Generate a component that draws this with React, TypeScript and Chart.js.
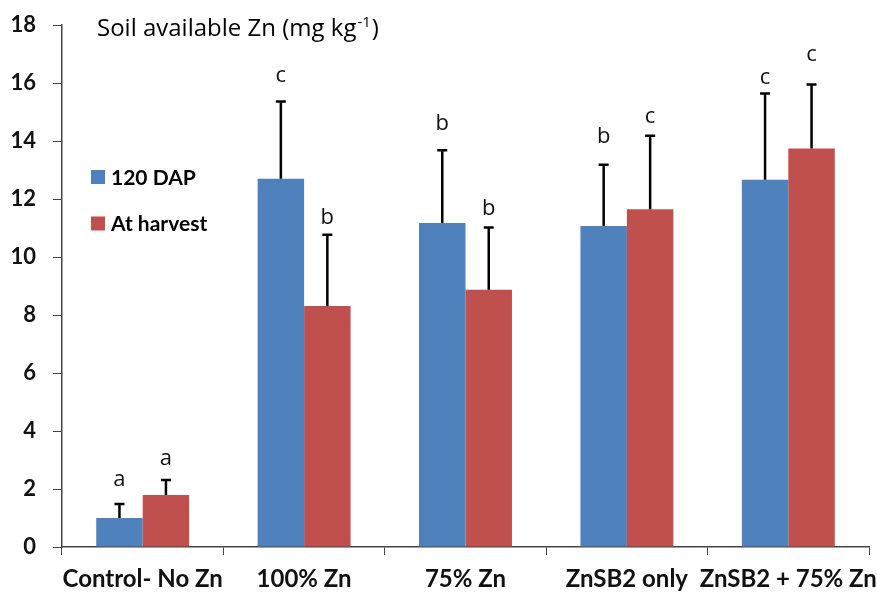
import React, { useEffect, useRef } from "react";
import { Chart, registerables } from "chart.js";

Chart.register(...registerables);

const categories = ["Control- No Zn", "100% Zn", "75% Zn", "ZnSB2 only", "ZnSB2 + 75% Zn"];
const seriesLabels = ["120 DAP", "At harvest"];
const dapValues = [1.0, 12.7, 11.17, 11.07, 12.66];
const harvestValues = [1.79, 8.31, 8.87, 11.65, 13.74];
const dapErrTop = [1.48, 15.36, 13.68, 13.18, 15.64];
const harvestErrTop = [2.31, 10.77, 11.02, 14.18, 15.95];
const dapLetters = ["a", "c", "b", "b", "c"];
const harvestLetters = ["a", "b", "b", "c", "c"];
const dapLetterAt = [2.09, 16.05, 14.37, 13.93, 15.98];
const harvestLetterAt = [2.84, 11.15, 11.46, 14.62, 16.77];
const yTicks = [0, 2, 4, 6, 8, 10, 12, 14, 16, 18];
const titleText = "Soil available Zn (mg kg";
const titleSup = "-1";

const BLUE = "#4F81BD";
const RED = "#C0504D";
const FONT = "Lato, 'Open Sans', sans-serif";
const FONT2 = "'Open Sans', Lato, sans-serif";

const overlayPlugin = {
  id: "overlay",
  afterDatasetsDraw(chart: any) {
    const ctx = chart.ctx;
    const y = chart.scales.y;
    const errs = [dapErrTop, harvestErrTop];
    const letters = [dapLetters, harvestLetters];
    const letterAt = [dapLetterAt, harvestLetterAt];
    ctx.save();
    for (let d = 0; d < 2; d++) {
      const meta = chart.getDatasetMeta(d);
      meta.data.forEach((el: any, i: number) => {
        const top = y.getPixelForValue(errs[d][i]);
        ctx.strokeStyle = "#000";
        ctx.lineWidth = 2.5;
        ctx.beginPath();
        ctx.moveTo(el.x, el.y);
        ctx.lineTo(el.x, top);
        ctx.moveTo(el.x - 5, top);
        ctx.lineTo(el.x + 5, top);
        ctx.stroke();
        ctx.fillStyle = "#111";
        ctx.font = `22px ${FONT2}`;
        ctx.textAlign = "center";
        ctx.textBaseline = "alphabetic";
        ctx.fillText(letters[d][i], el.x, y.getPixelForValue(letterAt[d][i]));
      });
    }
    // title
    ctx.fillStyle = "#000";
    ctx.textAlign = "left";
    ctx.textBaseline = "alphabetic";
    ctx.font = `24px ${FONT2}`;
    const tx = 97;
    const ty = 36;
    ctx.fillText(titleText, tx, ty);
    const w1 = ctx.measureText(titleText).width;
    ctx.font = `15px ${FONT2}`;
    ctx.fillText(titleSup, tx + w1 + 1, ty - 9);
    const w2 = ctx.measureText(titleSup).width;
    ctx.font = `24px ${FONT2}`;
    ctx.fillText(")", tx + w1 + w2 + 2, ty);
    // legend
    const colors = [BLUE, RED];
    const rowY = [177, 223.5];
    ctx.font = `bold 21px ${FONT}`;
    ctx.textBaseline = "middle";
    for (let k = 0; k < 2; k++) {
      ctx.fillStyle = colors[k];
      ctx.fillRect(91, rowY[k] - 7, 14, 14);
      ctx.fillStyle = "#000";
      ctx.fillText(chart.data.datasets[k].label, 111, rowY[k] + 1);
    }
    ctx.restore();
  },
};

export default function App() {
  const ref = useRef<HTMLCanvasElement | null>(null);
  useEffect(() => {
    if (!ref.current) return;
    const chart = new Chart(ref.current, {
      type: "bar",
      data: {
        labels: categories,
        datasets: [
          { label: seriesLabels[0], data: dapValues, backgroundColor: BLUE, categoryPercentage: 0.576, barPercentage: 1 },
          { label: seriesLabels[1], data: harvestValues, backgroundColor: RED, categoryPercentage: 0.576, barPercentage: 1 },
        ],
      },
      options: {
        animation: false,
        responsive: true,
        maintainAspectRatio: false,
        layout: { padding: { top: 25, right: 8, left: 0, bottom: 0 } },
        plugins: { legend: { display: false }, tooltip: { enabled: false }, title: { display: false } },
        scales: {
          x: {
            offset: true,
            grid: { display: true, drawOnChartArea: false, drawTicks: true, tickLength: 8, offset: true, color: "#444" },
            border: { display: true, color: "#444", width: 1.5 },
            ticks: { color: "#111", font: { family: FONT, size: 24, weight: "bold" }, padding: 10, maxRotation: 0, autoSkip: false },
            afterFit: (s: any) => { s.height = 47; s.paddingLeft = 0; s.paddingRight = 0; },
          },
          y: {
            min: 0,
            max: 18,
            afterBuildTicks: (s: any) => { s.ticks = yTicks.map((v) => ({ value: v })); },
            grid: { display: true, drawOnChartArea: false, drawTicks: true, tickLength: 9, color: "#444" },
            border: { display: true, color: "#444", width: 1.5 },
            ticks: { color: "#111", font: { family: FONT, size: 22, weight: "bold" }, padding: 17 },
            afterFit: (s: any) => { s.width = 62; s.paddingTop = 0; s.paddingBottom = 0; },
          },
        },
      },
      plugins: [overlayPlugin],
    });
    return () => chart.destroy();
  }, []);
  return (
    <div style={{ position: "fixed", left: 0, top: 0, width: 877, height: 594, background: "#fff" }}>
      <canvas ref={ref} />
    </div>
  );
}
